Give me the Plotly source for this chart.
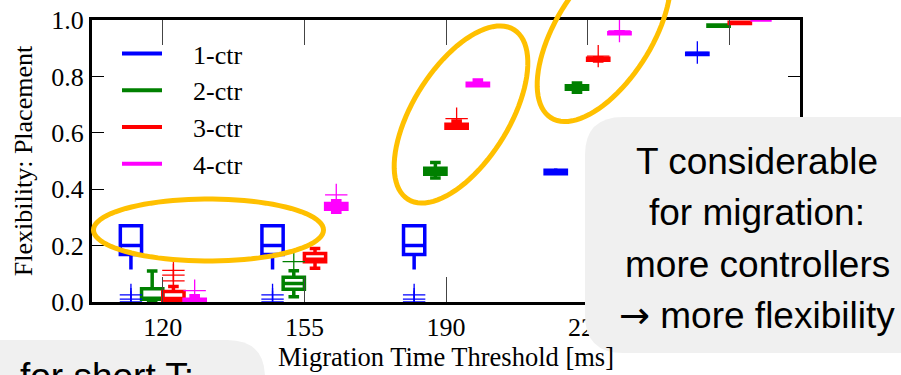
import numpy as np
import plotly.graph_objects as go

# ---------------- data ----------------
categories = ["120", "155", "190", "225", "260"]
series_names = ["1-ctr", "2-ctr", "3-ctr", "4-ctr"]

# 1-ctr
low_1 = [0.115, 0.115, 0.115, 0.455, 0.878]
q1_1 = [0.168, 0.168, 0.168, 0.455, 0.878]
med_1 = [0.200, 0.200, 0.200, 0.460, 0.880]
q3_1 = [0.270, 0.270, 0.270, 0.467, 0.882]
up_1 = [0.270, 0.270, 0.270, 0.474, 0.882]
flier_x_1 = ["120", "120", "120", "155", "155", "155", "190", "190", "190", "260"]
flier_y_1 = [0.0, 0.01, 0.025, 0.0, 0.01, 0.025, 0.0, 0.01, 0.025, 0.885]

# 2-ctr
low_2 = [0.000, 0.019, 0.440, 0.744, 0.978]
q1_2 = [0.010, 0.045, 0.453, 0.754, 0.978]
med_2 = [0.010, 0.066, 0.463, 0.760, 0.980]
q3_2 = [0.047, 0.088, 0.474, 0.767, 0.982]
up_2 = [0.110, 0.111, 0.495, 0.777, 0.982]
flier_x_2 = ["155"]
flier_y_2 = [0.143]

# 3-ctr
low_3 = [0.000, 0.120, 0.616, 0.855, 0.988]
q1_3 = [0.003, 0.143, 0.616, 0.857, 0.988]
med_3 = [0.012, 0.152, 0.622, 0.861, 0.990]
q3_3 = [0.037, 0.172, 0.630, 0.864, 0.992]
up_3 = [0.055, 0.190, 0.642, 0.866, 0.992]
flier_x_3 = ["120", "120", "120", "190", "225"]
flier_y_3 = [0.075, 0.095, 0.112, 0.650, 0.872]

# 4-ctr
low_4 = [0.000, 0.318, 0.767, 0.951, 1.0]
q1_4 = [0.000, 0.329, 0.767, 0.951, 1.0]
med_4 = [0.003, 0.340, 0.771, 0.953, 1.0]
q3_4 = [0.010, 0.349, 0.776, 0.955, 1.0]
up_4 = [0.022, 0.359, 0.787, 0.958, 1.0]
flier_x_4 = ["120", "155", "225"]
flier_y_4 = [0.040, 0.380, 0.961]

y_ticks = [0.0, 0.2, 0.4, 0.6, 0.8, 1.0]

note_right_lines = ["T considerable", "for migration:", "more controllers",
                    "<span style='font-family:DejaVu Sans'>→</span> more flexibility"]
note_left_lines = ["for short T:"]

# ---------------- styling ----------------
colors = ["#0000ff", "#008000", "#ff0000", "#ff00ff"]
whisker_w = [0.0, 0.5, 0.5, 0.5]
SERIF = "Liberation Serif"
SANS = "Liberation Sans"
ORANGE = "#ffc000"
GRAY = "#f0f0f0"
LEGEND_PAD = "\u00a0\u00a0\u00a0\u00a0"

W, H = 901, 375
ML, MR, MT, MB = 92, 101, 20, 73
PW, PH = W - ML - MR, H - MT - MB


def to_paper(px, py):
    return (px - ML) / PW, (H - MB - py) / PH


def ellipse_path(cx, cy, a, b, ang_deg, n=90):
    th = np.radians(ang_deg)
    parts = []
    for t in np.linspace(0, 2 * np.pi, n, endpoint=False):
        ex, ey = a * np.cos(t), b * np.sin(t)
        x = cx + ex * np.cos(th) - ey * np.sin(th)
        y = cy - (ex * np.sin(th) + ey * np.cos(th))
        px, py = to_paper(x, y)
        parts.append(f"{px:.5f},{py:.5f}")
    return "M " + " L ".join(parts) + " Z"


def rrect_path(x0, y0, x1, y1, r):
    def p(x, y):
        a, b = to_paper(x, y)
        return f"{a:.5f},{b:.5f}"
    return (f"M {p(x0 + r, y0)} L {p(x1 - r, y0)} Q {p(x1, y0)} {p(x1, y0 + r)} "
            f"L {p(x1, y1 - r)} Q {p(x1, y1)} {p(x1 - r, y1)} "
            f"L {p(x0 + r, y1)} Q {p(x0, y1)} {p(x0, y1 - r)} "
            f"L {p(x0, y0 + r)} Q {p(x0, y0)} {p(x0 + r, y0)} Z")


stats = [
    (low_1, q1_1, med_1, q3_1, up_1, flier_x_1, flier_y_1),
    (low_2, q1_2, med_2, q3_2, up_2, flier_x_2, flier_y_2),
    (low_3, q1_3, med_3, q3_3, up_3, flier_x_3, flier_y_3),
    (low_4, q1_4, med_4, q3_4, up_4, flier_x_4, flier_y_4),
]

fig = go.Figure()
for i, (name, col, st) in enumerate(zip(series_names, colors, stats)):
    lo, q1, md, q3, up, fx, fy = st
    grp = f"g{i}"
    fig.add_trace(go.Box(
        x=categories, q1=q1, median=md, q3=q3, lowerfence=lo, upperfence=up,
        name=name, offsetgroup=grp, legendgroup=name, showlegend=False,
        line=dict(color=col, width=3.5), fillcolor="rgba(255,255,255,0)",
        whiskerwidth=whisker_w[i], boxpoints=False, hoverinfo="skip",
    ))
    fig.add_trace(go.Scatter(
        x=fx, y=fy, mode="markers", offsetgroup=grp, legendgroup=name,
        showlegend=False, hoverinfo="skip",
        marker=dict(symbol="cross-thin", size=16, color=col,
                    line=dict(color=col, width=1.3)),
    ))
    fig.add_trace(go.Scatter(
        x=[None], y=[None], mode="lines", name=LEGEND_PAD + name, offsetgroup=grp,
        legendgroup=name, line=dict(color=col, width=4),
    ))

shapes = [
    dict(type="path", xref="paper", yref="paper", layer="above",
         path=ellipse_path(208.5, 230, 115, 31, 0),
         line=dict(color=ORANGE, width=5)),
    dict(type="path", xref="paper", yref="paper", layer="above",
         path=ellipse_path(461, 114.5, 100, 48, 58),
         line=dict(color=ORANGE, width=5)),
    dict(type="path", xref="paper", yref="paper", layer="above",
         path=ellipse_path(604, 33, 100, 48, 58),
         line=dict(color=ORANGE, width=5)),
    dict(type="path", xref="paper", yref="paper", layer="above",
         path=rrect_path(585, 117, 940, 353, 38),
         fillcolor=GRAY, line=dict(width=0)),
    dict(type="path", xref="paper", yref="paper", layer="above",
         path=rrect_path(-40, 340, 265, 430, 38),
         fillcolor=GRAY, line=dict(width=0)),
]

annotations = []
right_line_y = [161, 212.5, 264, 315.5]
for txt, py in zip(note_right_lines, right_line_y):
    ax, ay = to_paper(757, py)
    annotations.append(dict(
        xref="paper", yref="paper", x=ax, y=ay, xanchor="center", yanchor="middle",
        align="center", showarrow=False, text=txt,
        font=dict(family=SANS, size=37, color="black")))
for txt in note_left_lines:
    ax, ay = to_paper(18, 376)
    annotations.append(dict(
        xref="paper", yref="paper", x=ax, y=ay, xanchor="left", yanchor="middle",
        align="left", showarrow=False, text=txt,
        font=dict(family=SANS, size=37, color="black")))

leg_x, leg_y = to_paper(117, 30)

fig.update_layout(
    width=W, height=H, template="none",
    margin=dict(l=ML, r=MR, t=MT, b=MB, pad=0, autoexpand=False),
    paper_bgcolor="white", plot_bgcolor="white",
    boxmode="group", boxgap=0.4, boxgroupgap=0.0,
    scattermode="group", scattergap=0.4,
    font=dict(family=SERIF, size=26, color="black"),
    showlegend=True,
    legend=dict(x=leg_x, y=leg_y, xanchor="left", yanchor="top",
                bgcolor="rgba(0,0,0,0)", borderwidth=0, itemwidth=40,
                tracegroupgap=0, traceorder="grouped",
                font=dict(family=SERIF, size=26, color="black")),
    shapes=shapes, annotations=annotations,
)
fig.update_xaxes(
    type="category", categoryorder="array", categoryarray=categories,
    range=[-0.5, len(categories) - 0.5], automargin=False,
    showline=True, linewidth=3, linecolor="black", mirror="ticks",
    ticks="inside", ticklen=25, tickwidth=1, tickcolor="#444",
    showgrid=False, zeroline=False,
    tickfont=dict(family=SERIF, size=26, color="black"),
    title=dict(text="Migration Time Threshold [ms]", standoff=7,
               font=dict(family=SERIF, size=26.5, color="black")),
)
fig.update_yaxes(
    range=[0, 1], tickvals=y_ticks, tickformat=".1f", automargin=False,
    showline=True, linewidth=3, linecolor="black", mirror="ticks",
    ticks="inside", ticklen=12, tickwidth=1, tickcolor="black",
    showgrid=False, zeroline=False,
    tickfont=dict(family=SERIF, size=26, color="black"),
    title=dict(text="Flexibility: Placement", standoff=12,
               font=dict(family=SERIF, size=26, color="black")),
)

fig.write_html("out.html", config={"displayModeBar": False, "staticPlot": True},
               post_script="document.body.style.margin='0px';document.body.style.overflow='hidden';")
